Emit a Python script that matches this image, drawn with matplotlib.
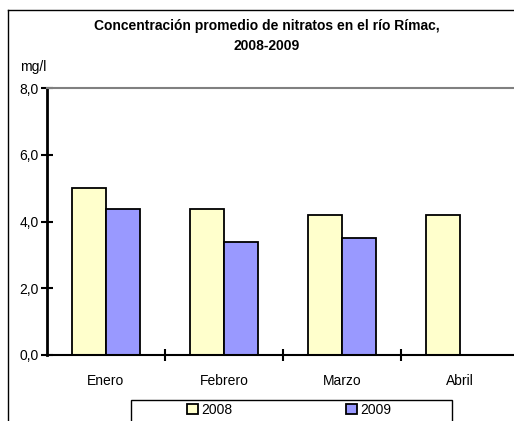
import numpy as np
import matplotlib.pyplot as plt
from matplotlib import font_manager
from matplotlib.patches import Rectangle
from matplotlib.lines import Line2D

names = [f.name for f in font_manager.fontManager.ttflist]
fam = 'Liberation Sans Narrow' if 'Liberation Sans Narrow' in names else 'Liberation Sans'
plt.rcParams['font.family'] = [fam, 'DejaVu Sans']

meses = ['Enero', 'Febrero', 'Marzo', 'Abril']
v2008 = [5.0, 4.37, 4.19, 4.19]
v2009 = [4.36, 3.39, 3.52, np.nan]
yticks = [0, 2, 4, 6, 8]
ylabels = ['0,0', '2,0', '4,0', '6,0', '8,0']

fig = plt.figure(figsize=(5.14, 4.21), dpi=100)
W, H = 514, 421
ax = fig.add_axes([47 / W, 1 - 355 / H, 472 / W, 267 / H])

x = np.arange(len(meses))
w = 0.29
ax.bar(x - w / 2, v2008, w, color='#FFFFCC', edgecolor='black', linewidth=1.3, label='2008')
ax.bar(x + w / 2, v2009, w, color='#9999FF', edgecolor='black', linewidth=1.3, label='2009')

ax.set_xlim(-0.5, 3.5)
ax.set_ylim(0, 8)
ax.set_yticks(yticks)
ax.set_yticklabels(ylabels, fontsize=10)
ax.set_xticks([0.5, 1.5, 2.5])
ax.set_xticklabels([])
ax.set_xticks(x, minor=True)
ax.set_xticklabels(meses, minor=True, fontsize=10)
ax.tick_params(axis='x', which='minor', length=0, pad=14)
ax.tick_params(axis='x', which='major', direction='inout', length=8, width=1.5)
ax.tick_params(axis='y', direction='inout', length=8, width=1.5, pad=2)
ax.spines['right'].set_visible(False)
ax.spines['top'].set_color('#808080')
ax.spines['top'].set_linewidth(1.5)
ax.spines['left'].set_linewidth(2)
ax.spines['bottom'].set_linewidth(1.5)

fig.text(33 / W, 1 - 67 / H, 'mg/l', fontsize=10, ha='center', va='center')
fig.text(267 / W, 1 - 36 / H, 'Concentración promedio de nitratos en el río Rímac,\n2008-2009',
         ha='center', va='center', fontsize=10, fontweight='bold', linespacing=1.5)

# chart area frame
fig.add_artist(Line2D([8 / W, 8 / W], [0, 1 - 10 / H], color='black', lw=1))
fig.add_artist(Line2D([8 / W, 1], [1 - 10 / H, 1 - 10 / H], color='black', lw=1))

# legend box
fig.add_artist(Rectangle((131 / W, -0.05), 321 / W, 0.05 + 1 - 400 / H, transform=fig.transFigure,
                         facecolor='white', edgecolor='black', lw=1))
fig.legend(loc='center', bbox_to_anchor=(289 / W, 1 - 410 / H), ncol=2, frameon=False,
           fontsize=10, handlelength=0.8, handleheight=0.8, handletextpad=0.2, columnspacing=8.2,
           borderpad=0)

fig.savefig('out.png', dpi=100)
